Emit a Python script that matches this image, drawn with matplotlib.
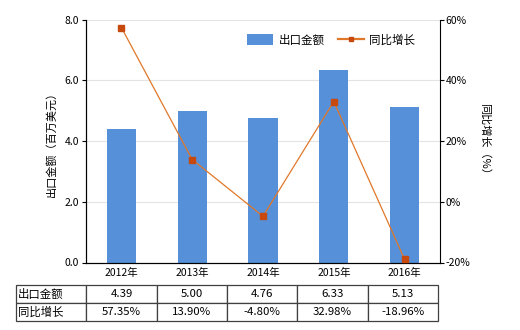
import matplotlib
matplotlib.use("Agg")
import matplotlib.pyplot as plt
import numpy as np

plt.rcParams['font.family'] = ['Noto Sans CJK SC', 'DejaVu Sans']

# ----------------------- datos ------------------------
anios = ["2012年", "2013年", "2014年", "2015年", "2016年"]
exportacion = [4.39, 5.00, 4.76, 6.33, 5.13]
crecimiento = [57.35, 13.90, -4.80, 32.98, -18.96]
etiquetas_izq = ["0.0", "2.0", "4.0", "6.0", "8.0"]
etiquetas_der = ["-20%", "0%", "20%", "40%", "60%"]

color_barra = "#5590D8"
color_linea = "#E0782A"
color_marca = "#C8490E"

fig = plt.figure(figsize=(5.2, 3.3), dpi=100)
ax = fig.add_axes([86 / 520, 1 - 262.5 / 330, 354 / 520, 243 / 330])
ax2 = ax.twinx()

x = np.arange(len(anios))
ax.bar(x, exportacion, width=0.41, color=color_barra, label="出口金额", zorder=2)
ax.set_ylim(0, 8)
ax.set_xlim(-0.5, len(anios) - 0.5)
ax.set_yticks([0, 2, 4, 6, 8])
ax.set_yticklabels(etiquetas_izq, fontsize=7.5)
ax.set_xticks(x)
ax.set_xticklabels(anios, fontsize=7.5)
ax.tick_params(axis='x', length=0, pad=4)
ax.tick_params(axis='y', length=3, pad=2)
ax.grid(axis='y', color='#e4e4e4', linewidth=0.8, zorder=0)
ax.set_ylabel("出口金额（百万美元）", fontsize=8, labelpad=6)
ax.spines['top'].set_visible(False)
ax.spines['right'].set_visible(False)

ax2.plot(x, crecimiento, color=color_linea, linewidth=0.9, marker='s', markersize=4,
         markerfacecolor=color_marca, markeredgecolor=color_marca, label="同比增长", zorder=3)
ax2.set_ylim(-20, 60)
ax2.set_yticks([-20, 0, 20, 40, 60])
ax2.set_yticklabels(etiquetas_der, fontsize=7.5)
ax2.tick_params(axis='y', length=3, pad=1)
ax2.set_ylabel("同比增长（%）", fontsize=8, rotation=270, labelpad=14)
ax2.spines['top'].set_visible(False)

# leyenda
h1, l1 = ax.get_legend_handles_labels()
h2, l2 = ax2.get_legend_handles_labels()
leg = ax2.legend(h1 + h2, l1 + l2, loc='upper right', bbox_to_anchor=(0.96, 0.985), ncol=2,
                 frameon=False, fontsize=8.3, handlelength=2.2, handleheight=1.0,
                 columnspacing=1.2, handletextpad=0.5, markerscale=0.7)
leg.get_lines()[0].set_linewidth(1.6)

# tabla
filas = [["出口金额"] + [f"{v:.2f}" for v in exportacion],
         ["同比增长"] + [f"{v:.2f}%" for v in crecimiento]]
tabla = ax.table(cellText=filas, bbox=[-70 / 354, -58.5 / 243, 422 / 354, 36 / 243],
                 cellLoc='center')
tabla.auto_set_font_size(False)
tabla.set_fontsize(8.2)
for (r, c), celda in tabla.get_celld().items():
    celda.set_edgecolor('#404040')
    celda.set_linewidth(0.9)
    if c == 0:
        celda.set_text_props(ha='left')
        celda.PAD = 0.03

fig.savefig("out.png", dpi=100)
